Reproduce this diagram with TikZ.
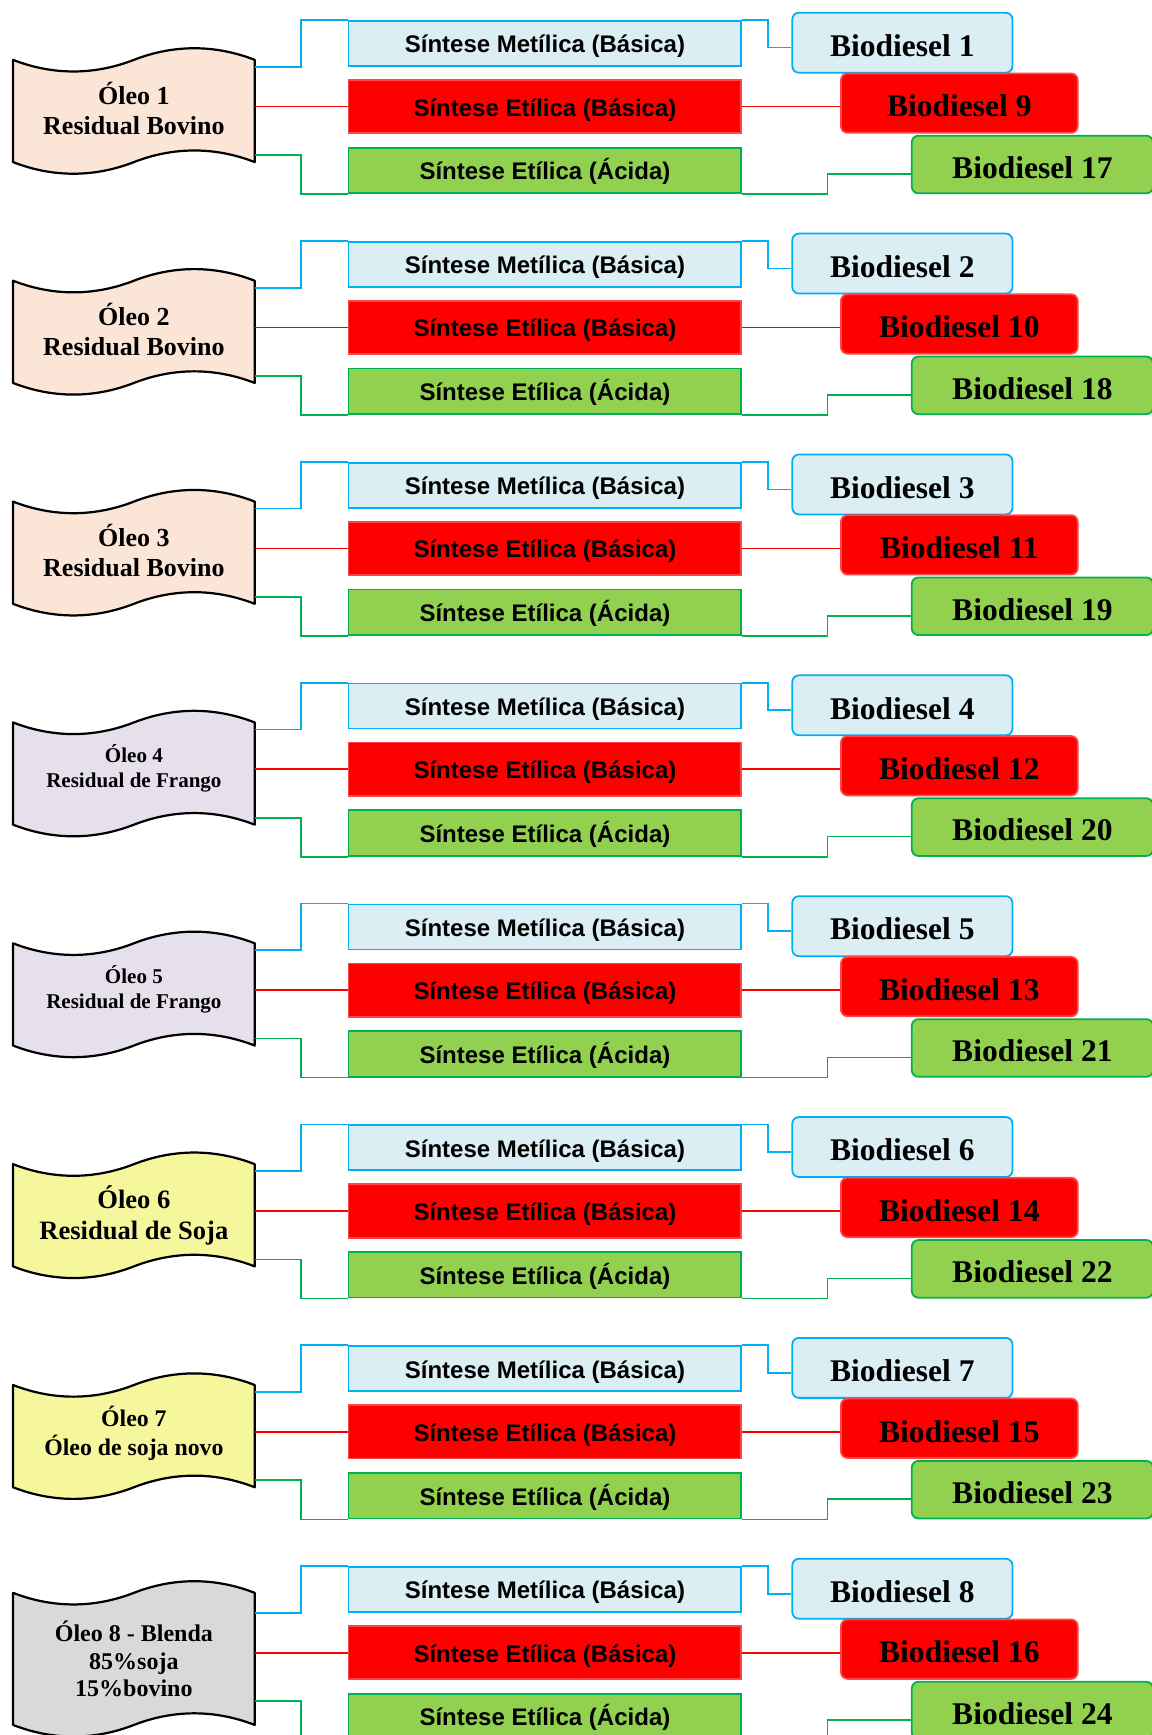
\documentclass[tikz,border=0pt]{standalone}
\usepackage{fontspec}
\setmainfont{Liberation Serif}
\newfontfamily\synfont{Liberation Sans}
\usepackage{xcolor}
\usetikzlibrary{calc}

\definecolor{metfill}{HTML}{DAEEF3}
\definecolor{metline}{HTML}{00B0F0}
\definecolor{etbfill}{HTML}{FF0000}
\definecolor{etbline}{HTML}{FF4545}
\definecolor{etafill}{HTML}{92D050}
\definecolor{etaline}{HTML}{00B050}
\definecolor{oilbeef}{HTML}{FBE5D6}
\definecolor{oilchick}{HTML}{E5E0EC}
\definecolor{oilsoy}{HTML}{F6F79C}
\definecolor{oilblend}{HTML}{D9D9D9}

\pgfdeclarelayer{bg}
\pgfsetlayers{bg,main}

\begin{document}
\begin{tikzpicture}[x=1pt,y=-1pt,
  syn/.style={rectangle, inner sep=0pt, minimum width=355pt, line width=1.6pt,
    text height=17pt, text depth=0pt,
    font={\synfont\fontsize{21.7}{26}\selectfont\bfseries}},
  met/.style={syn, draw=metline, fill=metfill, minimum height=40.6pt},
  etb/.style={syn, draw=etbline, fill=etbfill, minimum height=48.2pt},
  eta/.style={syn, draw=etaline, fill=etafill, minimum height=41.2pt},
  bio/.style={rectangle, rounded corners=6pt, inner sep=0pt, line width=1.6pt,
    text height=25pt, text depth=0pt,
    font={\fontsize{28.5}{32}\selectfont\bfseries}},
  bioa/.style={bio, draw=metline, fill=metfill, minimum width=199pt, minimum height=54.2pt},
  biob/.style={bio, draw=etbline, fill=etbfill, minimum width=214pt, minimum height=53.7pt},
  bioc/.style={bio, draw=etaline, fill=etafill, minimum width=218pt, minimum height=52.1pt},
  oil/.style={rectangle, inner sep=0pt, minimum width=218pt, align=center},
  oilline/.style={draw=black, line width=2pt, line join=round},
  oiltxta/.style={font={\fontsize{23.5}{27}\selectfont\bfseries}, text depth=5pt},
  oiltxtb/.style={font={\fontsize{19}{22.6}\selectfont\bfseries}, text depth=14pt},
  oiltxtc/.style={font={\fontsize{24}{28}\selectfont\bfseries}},
  oiltxtd/.style={font={\fontsize{21.5}{26}\selectfont\bfseries}, text depth=9.6pt},
  oiltxte/.style={font={\fontsize{21.7}{25}\selectfont\bfseries}, yshift=-1.7pt},
  lnblue/.style={draw=metline, line width=1.5pt},
  lnred/.style={draw=red, line width=1.5pt},
  lngreen/.style={draw=etaline, line width=1.5pt}]
  \useasboundingbox (0,0) rectangle (1041,1568);

  \foreach \i/\txt/\col/\st/\h in {
      1/{Óleo 1\\Residual Bovino}/oilbeef/oiltxta/92,
      2/{Óleo 2\\Residual Bovino}/oilbeef/oiltxta/92,
      3/{Óleo 3\\Residual Bovino}/oilbeef/oiltxta/92,
      4/{Óleo 4\\Residual de Frango}/oilchick/oiltxtb/92,
      5/{Óleo 5\\Residual de Frango}/oilchick/oiltxtb/92,
      6/{Óleo 6\\Residual de Soja}/oilsoy/oiltxtc/92,
      7/{Óleo 7\\Óleo de soja novo}/oilsoy/oiltxtd/92,
      8/{Óleo 8 - Blenda\\85\%soja\\15\%bovino}/oilblend/oiltxte/119}{
    \pgfmathsetmacro\yo{(\i-1)*199.6}
    \pgfmathtruncatemacro\nb{\i+8}
    \pgfmathtruncatemacro\nc{\i+16}
    % oil (punched tape)
    \node[oil, \st, minimum height=\h pt] (d\i) at (121,\yo+100.3) {\txt};
    \begin{pgfonlayer}{bg}
      \draw[oilline, fill=\col] (d\i.north west)
        .. controls +(36,14) and +(-36,14) .. (d\i.north)
        .. controls +(36,-14) and +(-36,-14) .. (d\i.north east)
        -- (d\i.south east)
        .. controls +(-36,-14) and +(36,-14) .. (d\i.south)
        .. controls +(-36,14) and +(36,14) .. (d\i.south west) -- cycle;
    \end{pgfonlayer}
    % syntheses
    \node[met] (m\i) at (492.5,\yo+39.3) {Síntese Metílica (Básica)};
    \node[etb] (e\i) at (492.5,\yo+96.4) {Síntese Etílica (Básica)};
    \node[eta] (a\i) at (492.5,\yo+154.1) {Síntese Etílica (Ácida)};
    % products
    \node[bioa] (b\i) at (815.5,\yo+38.6) {Biodiesel \i};
    \node[biob] (b\nb) at (867,\yo+93.2) {Biodiesel \nb};
    \node[bioc] (b\nc) at (933,\yo+148.7) {Biodiesel \nc};
    % connectors
    \draw[lnblue] (d\i.east |- m\i.south) -- ++(42,0) |- (m\i.north west);
    \draw[lnblue] (m\i.north east) -- ++(23,0) |- ($(b\i.north west)!0.58!(b\i.south west)$);
    \draw[lnred] (d\i.east |- e\i.west) -- (e\i.west);
    \draw[lnred] (e\i.east) -- (e\i.east -| b\nb.west);
    \draw[lngreen] ($(d\i.east |- a\i.north)+(0,7.5)$) -- ++(42,0) |- (a\i.south west);
    \draw[lngreen] (a\i.south east) -- ++(77,0) |- ($(b\nc.north west)!0.66!(b\nc.south west)$);
  }
\end{tikzpicture}
\end{document}
